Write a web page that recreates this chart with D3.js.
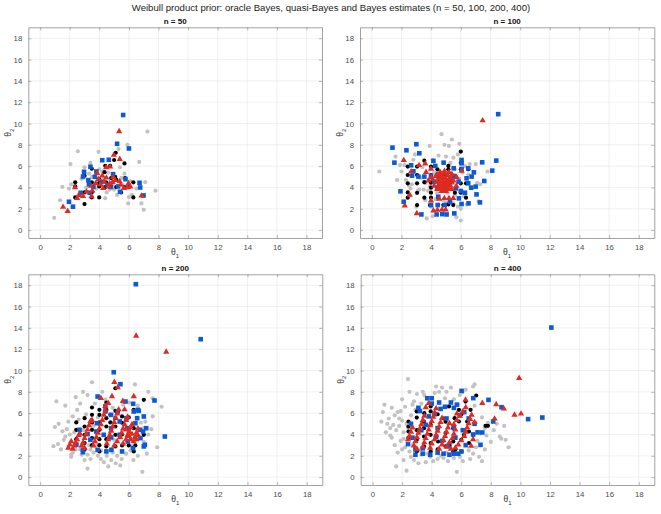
<!DOCTYPE html>
<html>
<head>
<meta charset="utf-8">
<script src="https://cdn.jsdelivr.net/npm/d3@7"></script>
<style>
  body { margin: 0; background: #fff; }
  svg { font-family: "Liberation Sans", Arial, sans-serif; }
</style>
</head>
<body>
<svg id="chart" width="661" height="514"></svg>
<script>
// values, [theta1, theta2]
const ticks = [0, 2, 4, 6, 8, 10, 12, 14, 16, 18];
const panelTitles = ["n = 50", "n = 100", "n = 200", "n = 400"];

const gray50 = [[0.95,1.15],[1.35,2.8],[1.5,4.05],[1.95,3.9],[2.05,6.2],[2.1,4.3],[2.55,7.4],[2.8,4.8],[3.0,5.9],[3.4,6.3],[3.5,5.0],[3.95,7.35],[4.0,5.7],[4.3,4.9],[4.4,3.0],[4.5,3.55],[4.6,5.4],[5.0,3.8],[5.2,3.3],[5.3,7.6],[5.7,5.3],[5.9,8.0],[5.95,2.5],[6.0,3.1],[6.2,3.3],[6.5,3.9],[6.7,6.4],[6.85,2.5],[7.0,1.9],[7.1,4.5],[7.25,9.25],[7.8,3.7],[3.2,3.6],[2.6,3.3],[3.1,4.0],[4.9,4.3],[5.5,4.9],[3.8,3.9],[4.2,5.5],[2.9,4.9],[3.6,4.4],[5.4,5.9],[4.7,3.8],[6.1,4.6],[5.6,4.2],[4.0,4.5],[3.3,5.3]];
const black50 = [[5.11,7.26],[5.0,6.58],[5.7,6.26],[4.4,6.04],[4.73,6.04],[3.49,5.76],[4.35,5.44],[5.07,5.0],[4.8,4.88],[4.0,4.78],[3.49,4.48],[3.0,5.1],[2.37,4.48],[2.37,4.1],[2.37,3.07],[3.0,3.54],[3.0,2.44],[3.49,3.07],[3.99,3.07],[3.49,3.54],[3.99,4.1],[4.4,4.04],[4.8,4.04],[5.14,4.04],[5.47,3.54],[5.7,4.04],[6.3,4.48],[6.3,3.07],[6.0,4.04],[5.74,4.88],[5.14,4.73],[3.99,4.42],[4.46,4.48]];
const blue50 = [[5.61,10.8],[5.2,8.1],[6.0,7.66],[4.2,6.56],[4.64,6.6],[2.97,5.47],[3.4,5.94],[2.9,5.03],[3.8,5.5],[4.93,5.25],[3.3,4.3],[3.26,4.69],[3.7,5.0],[4.14,4.53],[4.55,4.2],[3.6,4.06],[5.27,4.1],[5.77,4.78],[6.72,4.44],[6.76,4.0],[6.99,3.25],[5.4,3.6],[2.74,3.5],[3.35,3.5],[1.95,2.66],[2.22,2.2],[4.78,4.06]];
const red50 = [[5.34,9.31],[5.38,6.72],[4.98,7.1],[4.46,5.94],[4.73,6.0],[3.85,5.4],[4.2,5.16],[4.93,5.03],[3.94,4.84],[4.48,4.97],[5.07,4.75],[4.33,4.6],[4.7,4.44],[5.38,4.63],[3.76,4.44],[3.44,4.19],[4.08,4.31],[4.62,4.13],[5.45,4.31],[5.97,4.44],[6.09,4.13],[5.66,4.0],[3.53,3.75],[3.13,3.66],[2.9,3.25],[2.63,3.34],[2.5,3.06],[3.47,3.22],[2.36,4.06],[6.85,3.28],[1.55,2.22],[1.86,1.84],[5.88,4.06],[4.89,4.56],[4.26,4.0]];

const gray100 = [[0.5,5.5],[1.7,4.7],[1.9,6.1],[1.6,6.9],[2.3,4.7],[2.6,3.9],[2.7,4.3],[2.9,7.1],[3.1,3.7],[3.3,4.9],[3.5,3.8],[3.7,1.1],[3.9,7.9],[4.1,1.3],[4.3,2.9],[4.4,3.5],[4.5,7.0],[4.7,9.0],[4.9,8.0],[5.0,6.9],[5.2,7.9],[5.3,6.3],[5.4,8.5],[5.5,6.8],[5.6,5.7],[5.7,1.2],[5.8,2.2],[5.9,8.1],[6.0,0.9],[6.0,2.0],[6.2,3.2],[6.4,2.4],[6.5,5.2],[6.7,4.0],[7.0,6.2],[7.1,4.4],[7.2,2.7],[7.3,4.3],[7.8,5.5],[4.6,4.1],[5.1,3.5],[3.9,4.1],[4.2,5.4],[3.4,5.9],[5.3,4.4],[6.1,6.3],[2.0,5.5],[3.0,2.2],[5.5,2.5],[4.8,2.8],[3.6,2.8],[6.6,6.2],[2.2,6.1],[2.5,4.2],[3.2,3.8],[3.8,3.7],[4.5,2.4],[5.0,2.6],[5.6,3.3],[6.3,6.0],[6.1,5.4],[2.8,6.6],[4.0,2.2],[5.8,7.1],[3.6,4.4],[4.1,6.6],[5.9,4.8]];
const black100 = [[2.42,5.96],[2.42,5.17],[2.42,4.39],[2.42,3.54],[2.42,3.04],[3.05,2.35],[3.05,5.96],[3.05,5.17],[3.05,4.39],[3.54,6.52],[3.54,3.04],[3.99,5.96],[3.99,5.17],[3.99,4.45],[3.99,3.98],[3.99,3.51],[3.99,3.04],[4.42,5.71],[4.42,5.02],[4.42,4.55],[4.89,5.02],[5.16,6.02],[5.16,5.71],[5.16,2.41],[5.49,2.35],[5.6,3.51],[6.0,7.37],[6.0,6.33],[6.0,5.71],[6.0,4.39],[6.0,3.51],[6.35,4.39],[6.35,3.04],[6.5,5.71],[4.89,4.08],[3.92,2.35],[4.82,2.35],[3.54,4.5],[3.05,3.5],[4.42,3.98]];
const blue100 = [[8.52,10.88],[1.39,7.74],[1.52,6.33],[2.33,7.49],[3.0,8.06],[3.2,7.21],[2.65,6.08],[2.8,5.52],[1.93,3.64],[2.15,2.66],[3.34,1.47],[4.15,6.49],[4.28,6.02],[4.84,6.33],[5.52,5.8],[6.05,6.58],[6.05,6.27],[6.05,5.74],[6.5,5.8],[6.88,5.42],[7.44,6.36],[8.39,6.52],[8.12,5.58],[7.58,4.61],[7.0,4.08],[7.06,3.35],[7.29,2.6],[6.52,2.51],[6.05,2.45],[5.56,1.57],[5.04,1.47],[4.75,1.5],[4.37,1.47],[3.99,2.35],[4.44,2.35],[4.91,2.35],[5.27,2.66],[5.87,2.98],[6.0,3.67],[6.5,4.39],[6.73,5.02],[6.39,4.86],[5.56,5.08],[5.67,3.92],[5.85,4.55],[5.38,4.7],[4.93,4.39],[4.48,3.13],[4.2,4.55],[3.99,5.08],[3.54,5.02],[3.14,5.02],[2.71,5.11],[6.28,3.51],[6.7,3.98]];
const red100 = [[7.47,10.34],[2.15,6.61],[3.18,6.14],[2.65,5.55],[2.56,3.35],[2.22,2.35],[3.03,1.63],[3.65,5.49],[3.81,4.7],[3.99,5.8],[3.99,2.82],[4.15,1.88],[4.42,1.94],[4.73,1.97],[4.98,1.97],[4.53,2.98],[4.89,3.04],[5.2,3.04],[5.49,3.04],[5.72,5.02],[6.05,5.6],[4.5,5.2],[4.7,5.3],[4.9,5.4],[5.1,5.2],[5.3,5.0],[4.6,4.9],[4.8,4.9],[5.0,4.9],[5.2,4.8],[4.4,4.6],[4.6,4.6],[4.8,4.6],[5.0,4.6],[5.2,4.5],[5.4,4.5],[4.5,4.3],[4.7,4.3],[4.9,4.3],[5.1,4.3],[5.3,4.2],[4.6,4.0],[4.8,4.0],[5.0,4.0],[5.2,3.9],[4.4,3.9],[5.4,3.9],[4.9,5.6],[4.3,5.1],[4.1,4.8],[5.5,4.7],[4.0,5.0],[5.7,4.2],[4.2,4.2],[4.7,3.7],[5.0,3.7],[3.6,6.3],[4.6,5.5],[5.2,5.5],[4.4,5.3],[5.4,5.3],[4.8,5.1],[5.1,4.1],[4.9,3.8],[4.5,4.1]];

const gray200 = [[0.9,2.9],[1.1,7.1],[1.2,3.1],[1.25,5.0],[1.0,4.7],[1.5,4.3],[1.7,6.7],[1.7,3.8],[2.1,2.1],[2.1,1.9],[2.2,2.3],[2.4,7.5],[2.7,6.9],[2.9,8.0],[3.0,1.6],[3.2,0.8],[3.2,2.1],[3.4,1.7],[3.5,8.9],[3.6,2.3],[4.1,1.7],[4.2,8.0],[4.5,2.0],[4.6,1.0],[4.9,2.3],[5.1,1.3],[5.4,1.1],[5.5,1.7],[5.6,3.1],[6.1,2.5],[6.3,1.6],[6.4,8.7],[6.6,2.0],[6.9,0.5],[7.0,3.3],[7.2,2.2],[7.3,8.0],[7.6,5.7],[7.6,7.4],[7.9,2.8],[8.2,6.6],[7.3,4.0],[6.8,5.1],[3.2,7.7],[2.6,5.4],[2.3,4.2],[2.0,4.0],[1.8,4.5],[2.9,4.4],[3.3,3.0],[2.7,2.6],[3.9,5.6],[4.1,2.5],[3.8,3.0],[4.9,6.5],[5.4,5.3],[5.0,3.5],[6.4,6.1],[7.0,4.6],[2.5,3.1],[1.6,3.5],[1.4,2.6],[2.4,2.6],[2.8,2.1],[3.1,5.9],[3.7,6.9],[3.9,2.0],[4.3,1.4],[4.8,1.6],[5.2,2.0],[5.8,2.2],[6.2,2.9],[6.7,3.8],[7.1,5.2],[7.5,4.5],[2.2,5.7],[2.5,6.3],[3.4,2.6],[4.4,7.3],[5.6,6.8],[6.0,7.0],[6.6,6.7],[1.9,5.2],[3.6,4.8],[4.7,4.1]];
const black200 = [[2.44,5.13],[2.44,4.44],[2.44,3.56],[3.0,5.53],[3.0,4.75],[3.0,3.97],[3.0,3.19],[3.5,6.53],[3.5,5.84],[3.5,5.13],[3.5,4.44],[3.5,3.66],[4.0,6.31],[4.0,5.84],[4.0,5.13],[4.0,4.44],[4.0,3.56],[4.0,2.41],[4.47,7.0],[4.47,6.31],[4.47,5.53],[4.47,4.75],[4.47,3.56],[4.47,2.88],[4.74,5.84],[4.74,5.13],[5.08,6.22],[5.08,5.53],[5.08,4.75],[5.08,3.97],[5.08,2.88],[5.53,5.69],[5.53,2.97],[5.98,4.44],[5.98,2.97],[6.32,6.31],[6.32,4.59],[6.32,2.41],[7.0,3.97],[6.43,2.97],[5.08,8.34],[7.0,7.25],[3.0,2.6],[3.5,3.0],[4.0,3.0],[5.53,4.0],[5.53,5.1],[5.98,5.6]];
const blue200 = [[6.46,18.1],[10.84,12.94],[4.97,9.84],[5.42,8.72],[3.88,7.56],[7.72,7.19],[6.28,6.88],[6.66,6.22],[8.42,3.81],[7.0,5.69],[7.16,4.59],[2.66,4.44],[2.44,3.03],[2.89,2.56],[2.89,2.34],[3.2,4.03],[3.39,3.5],[3.79,4.28],[3.84,5.06],[3.88,2.56],[4.29,3.97],[4.4,6.16],[4.4,6.63],[4.47,2.41],[4.79,5.84],[4.79,4.59],[4.79,3.72],[4.81,2.56],[5.24,6.16],[5.37,5.22],[5.37,3.97],[5.53,2.41],[5.76,7.09],[5.82,5.53],[5.87,4.59],[5.91,3.34],[6.27,2.72],[6.32,6.16],[6.43,5.06],[6.59,6.31],[6.55,5.53],[6.73,4.44],[6.77,3.66],[6.95,4.28],[7.0,2.88],[7.07,3.03]];
const red200 = [[6.48,13.3],[8.51,11.8],[5.01,8.97],[5.24,8.47],[4.85,7.63],[4.1,7.47],[6.32,7.63],[5.58,7.19],[1.9,2.8],[2.0,3.1],[2.1,3.4],[2.2,2.7],[2.3,3.0],[2.4,3.3],[2.5,3.6],[2.6,4.0],[2.8,3.0],[2.9,3.3],[3.0,3.7],[3.1,4.1],[3.2,4.5],[3.3,4.9],[3.4,5.3],[3.0,2.8],[3.6,3.0],[3.7,3.4],[3.8,3.8],[3.9,4.2],[4.0,4.6],[4.1,5.0],[4.2,5.4],[4.3,5.9],[4.4,6.3],[4.4,6.7],[4.5,3.2],[4.6,3.6],[4.7,4.0],[4.8,4.4],[4.9,4.8],[5.0,5.2],[5.1,5.6],[5.2,6.0],[5.3,6.4],[4.6,7.0],[5.0,3.0],[5.2,3.4],[5.4,3.8],[5.5,4.2],[5.6,4.6],[5.7,5.0],[5.8,5.4],[5.9,5.7],[5.6,3.2],[5.8,3.6],[5.9,4.0],[6.0,4.3],[6.1,4.7],[6.2,5.0],[6.3,3.4],[6.4,3.8],[6.5,4.2],[6.6,4.6],[5.7,6.4],[6.0,3.9],[6.2,4.1],[5.8,4.5],[6.1,3.6],[6.5,3.6],[6.6,4.0],[3.5,5.4],[2.7,4.1]];

const gray400 = [[0.6,5.2],[0.7,6.1],[0.8,6.8],[1.1,5.5],[1.2,3.9],[1.3,3.7],[1.3,6.5],[1.5,5.8],[1.6,1.0],[1.7,2.3],[1.8,4.8],[1.9,3.4],[2.0,7.3],[2.1,1.6],[2.3,0.6],[2.4,9.2],[2.5,8.0],[2.6,5.8],[2.6,1.9],[2.8,1.6],[3.0,7.8],[3.1,1.3],[3.3,6.9],[3.4,8.0],[3.6,1.4],[4.3,8.5],[4.5,8.0],[4.7,8.4],[5.0,8.0],[5.3,8.4],[5.5,1.8],[5.7,0.5],[5.9,7.7],[6.3,8.2],[6.8,8.5],[6.9,8.7],[7.1,3.4],[7.2,1.9],[7.6,2.6],[8.0,3.3],[8.7,3.6],[8.9,4.8],[9.0,3.5],[9.2,2.8],[8.6,3.8],[7.4,1.5],[1.4,4.9],[2.0,5.3],[2.2,2.8],[2.1,4.2],[3.3,2.1],[4.1,1.5],[4.8,1.8],[6.1,1.5],[6.8,2.2],[7.8,5.1],[8.4,5.0],[2.7,3.0],[1.9,6.2],[3.7,7.4],[5.8,6.8],[6.5,5.3],[7.3,4.1],[1.0,5.0],[2.9,6.3],[1.6,4.4],[2.3,5.0],[2.0,2.6],[3.2,2.5],[4.6,2.0],[6.5,2.5],[7.6,4.6],[4.2,7.9],[1.5,3.0],[1.8,5.5],[2.2,6.6],[2.1,3.6],[2.5,2.4],[2.8,7.1],[3.5,7.7],[3.9,1.9],[4.4,1.7],[5.1,1.5],[5.9,1.9],[6.6,1.7],[7.0,2.8],[7.7,3.9],[8.2,4.4],[6.1,8.0],[5.5,7.3],[4.9,7.4],[1.2,4.6],[2.4,4.6],[3.7,2.2],[5.0,2.3],[6.9,6.7],[7.4,5.6],[2.7,6.8],[0.9,4.2],[1.7,6.1]];
const black400 = [[2.43,5.22],[2.43,4.75],[2.43,4.28],[2.99,6.16],[2.99,5.59],[2.99,3.5],[2.99,2.41],[3.48,4.59],[3.48,3.81],[3.48,2.88],[3.93,6.63],[3.93,6.16],[3.93,4.91],[3.93,3.97],[3.93,2.41],[4.43,3.34],[4.94,4.13],[4.94,2.88],[5.17,6.63],[5.46,4.59],[5.46,3.34],[5.55,5.53],[5.84,6.31],[5.84,5.22],[6.02,2.41],[6.18,3.97],[6.4,5.22],[6.52,4.28],[6.63,6.31],[6.29,7.09],[7.01,7.66],[7.64,4.81],[7.8,4.81],[6.81,3.97],[4.4,5.9],[4.8,5.5],[3.5,6.0],[5.2,3.0],[4.4,2.6],[3.0,4.4],[5.6,2.6],[6.0,3.5],[2.43,3.7],[3.48,5.2],[3.93,3.2],[4.43,4.6],[4.94,5.2],[5.46,2.4],[6.0,5.9],[6.52,3.2]];
const blue400 = [[12.09,14.03],[11.48,5.59],[10.52,5.44],[8.16,5.22],[8.72,6.56],[7.84,7.25],[6.81,7.41],[6.02,8.09],[7.3,3.03],[7.42,4.19],[2.9,2.1],[3.4,2.2],[3.9,2.1],[4.4,2.3],[4.8,2.2],[5.2,2.1],[5.5,2.2],[5.8,2.2],[6.0,2.4],[2.4,3.1],[2.6,5.0],[2.9,2.6],[3.1,6.5],[3.2,6.2],[3.4,2.7],[3.7,7.4],[4.0,7.4],[4.0,6.9],[4.2,5.9],[4.5,7.0],[4.6,6.4],[4.9,6.6],[5.0,5.5],[5.3,7.0],[5.5,6.5],[5.5,4.6],[5.7,6.8],[5.9,5.8],[6.2,6.1],[6.5,5.5],[6.9,5.0],[7.1,4.2],[4.3,3.8],[3.6,4.9],[3.3,4.4],[4.7,3.4],[5.1,2.9],[6.3,3.0],[6.8,4.0],[2.7,3.7],[3.8,5.7],[4.4,4.6],[5.6,3.7],[6.1,4.4]];
const red400 = [[9.91,9.34],[10.04,6.0],[9.6,5.9],[8.88,6.47],[8.36,6.88],[8.25,5.53],[7.42,7.0],[6.29,7.31],[6.67,2.97],[2.4,3.6],[2.5,3.9],[2.6,4.3],[2.7,4.7],[2.8,3.0],[2.9,3.4],[3.0,3.8],[3.1,4.2],[3.2,4.6],[3.3,5.0],[3.4,5.4],[3.5,5.8],[3.0,2.7],[3.4,2.9],[3.5,3.3],[3.6,3.7],[3.7,4.1],[3.8,4.5],[3.9,4.9],[4.0,5.3],[4.1,5.7],[4.2,6.1],[4.3,6.5],[3.6,6.6],[3.8,7.0],[3.9,2.8],[4.0,3.2],[4.2,3.6],[4.3,4.0],[4.4,4.4],[4.5,4.8],[4.6,5.2],[4.7,5.6],[4.5,2.7],[4.7,3.1],[4.8,3.5],[4.9,3.9],[5.0,4.3],[5.1,4.7],[5.2,5.1],[5.0,2.9],[5.2,3.3],[5.4,3.7],[5.5,4.1],[5.6,4.5],[5.3,2.7],[5.6,2.8],[5.8,3.1],[6.0,3.5],[6.2,3.9],[6.3,4.3],[6.4,4.7],[6.5,5.1],[6.6,5.5],[5.5,5.0],[5.7,5.4],[5.9,5.8],[6.1,6.2],[6.3,6.6],[6.7,5.9],[6.9,5.2],[6.8,3.6],[5.7,6.0]];

const panelData = [
  { gray: gray50, black: black50, blue: blue50, red: red50 },
  { gray: gray100, black: black100, blue: blue100, red: red100 },
  { gray: gray200, black: black200, blue: blue200, red: red200 },
  { gray: gray400, black: black400, blue: blue400, red: red400 }
];

const boxes = [
  { left: 28.3, right: 322, top: 27.3, bottom: 238 },
  { left: 360, right: 654.3, top: 27.3, bottom: 238 },
  { left: 28.3, right: 322.3, top: 274.3, bottom: 485 },
  { left: 360.7, right: 654.3, top: 274.3, bottom: 485 }
];

const svg = d3.select("#chart");

svg.append("text")
    .attr("x", 331)
    .attr("y", 11)
    .attr("text-anchor", "middle")
    .attr("font-size", 9.6)
    .attr("fill", "#222")
    .text("Weibull product prior: oracle Bayes, quasi-Bayes and Bayes estimates (n = 50, 100, 200, 400)");

const triangle = d3.symbol().type(d3.symbolTriangle).size(17);

panelData.forEach((pd, i) => {
    const b = boxes[i];
    const x = d3.scaleLinear().domain([-0.8, 19.05]).range([b.left, b.right]);
    const y = d3.scaleLinear().domain([-0.74, 19.03]).range([b.bottom, b.top]);
    const g = svg.append("g");

    // grid
    g.selectAll(".gx").data(ticks).join("line")
        .attr("x1", d => x(d)).attr("x2", d => x(d))
        .attr("y1", b.top).attr("y2", b.bottom)
        .attr("stroke", "#e6e6e6").attr("stroke-width", 0.6);
    g.selectAll(".gy").data(ticks).join("line")
        .attr("y1", d => y(d)).attr("y2", d => y(d))
        .attr("x1", b.left).attr("x2", b.right)
        .attr("stroke", "#e6e6e6").attr("stroke-width", 0.6);

    // axes (ticks point inward)
    g.append("g")
        .attr("transform", `translate(0,${b.bottom})`)
        .call(d3.axisBottom(x).tickValues(ticks).tickSizeInner(-3).tickSizeOuter(0).tickPadding(6));
    g.append("g")
        .attr("transform", `translate(${b.left},0)`)
        .call(d3.axisLeft(y).tickValues(ticks).tickSizeInner(-3).tickSizeOuter(0).tickPadding(6));
    g.append("g")
        .attr("transform", `translate(0,${b.top})`)
        .call(d3.axisTop(x).tickValues(ticks).tickSizeInner(-3).tickSizeOuter(0).tickFormat(""));
    g.append("g")
        .attr("transform", `translate(${b.right},0)`)
        .call(d3.axisRight(y).tickValues(ticks).tickSizeInner(-3).tickSizeOuter(0).tickFormat(""));
    g.selectAll(".domain").attr("stroke", "#8a8a8a").attr("stroke-width", 0.8);
    g.selectAll(".tick line").attr("stroke", "#8a8a8a").attr("stroke-width", 0.6);
    g.selectAll(".tick text").attr("fill", "#4d4d4d").attr("font-size", 7.8)
        .attr("font-family", "Liberation Sans, Arial, sans-serif");

    // titles and labels
    const cx = (b.left + b.right) / 2;
    g.append("text")
        .attr("x", cx).attr("y", b.top - 3.5)
        .attr("text-anchor", "middle")
        .attr("font-size", 8).attr("font-weight", "bold").attr("fill", "#111")
        .text(panelTitles[i]);

    const xl = g.append("text")
        .attr("x", cx).attr("y", b.bottom + 17)
        .attr("text-anchor", "middle")
        .attr("font-size", 8.5).attr("fill", "#333");
    xl.append("tspan").text("θ");
    xl.append("tspan").attr("font-size", 6).attr("dy", 2.5).text("1");

    const cy = (b.top + b.bottom) / 2;
    const yl = g.append("text")
        .attr("transform", `translate(${b.left - 17},${cy}) rotate(-90)`)
        .attr("text-anchor", "middle")
        .attr("font-size", 8.5).attr("fill", "#333");
    yl.append("tspan").text("θ");
    yl.append("tspan").attr("font-size", 6).attr("dy", 2.5).text("2");

    // markers
    g.selectAll(".gray").data(pd.gray).join("circle")
        .attr("cx", d => x(d[0])).attr("cy", d => y(d[1]))
        .attr("r", 2.1).attr("fill", "#c2c2c2");
    g.selectAll(".black").data(pd.black).join("circle")
        .attr("cx", d => x(d[0])).attr("cy", d => y(d[1]))
        .attr("r", 2.1).attr("fill", "#000");
    g.selectAll(".blue").data(pd.blue).join("rect")
        .attr("x", d => x(d[0]) - 2.3).attr("y", d => y(d[1]) - 2.3)
        .attr("width", 4.6).attr("height", 4.6).attr("fill", "#0a5ad6");
    g.selectAll(".red").data(pd.red).join("path")
        .attr("d", triangle)
        .attr("transform", d => `translate(${x(d[0])},${y(d[1]) + 0.6})`)
        .attr("fill", "#de2a22");
});
</script>
</body>
</html>
